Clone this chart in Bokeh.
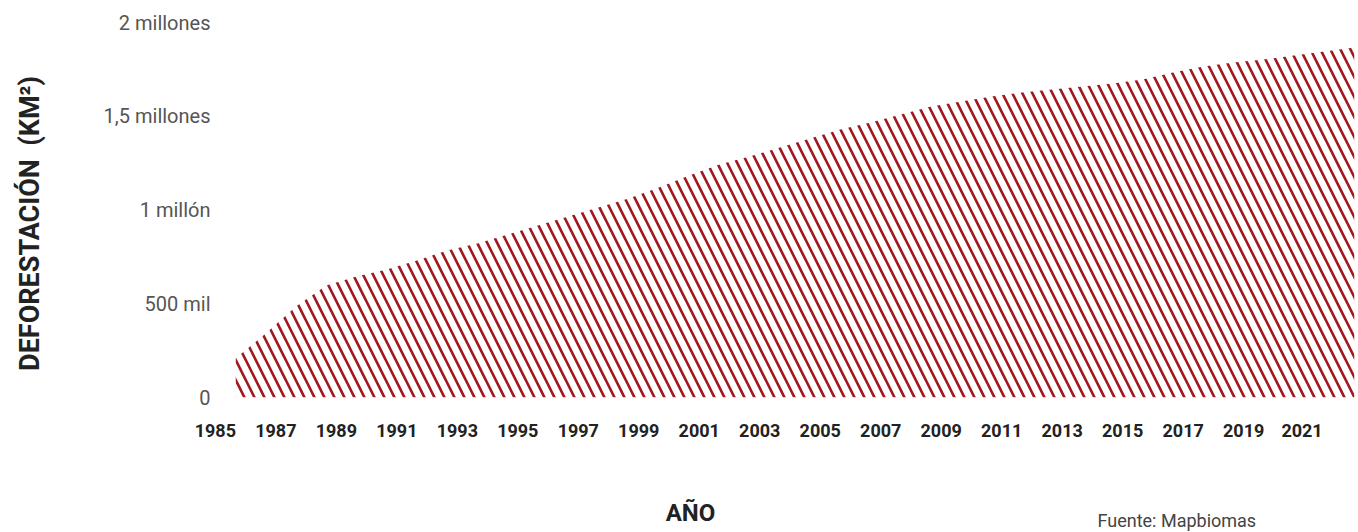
from bokeh.plotting import figure
from bokeh.models import FixedTicker, Range1d, Label
from bokeh.layouts import column
from bokeh.embed import file_html
from bokeh.resources import INLINE

years = list(range(1985, 2023))
deforestation = [208000, 341000, 485000, 597000, 645000, 683000, 731000, 784000,
                 821000, 869000, 917000, 965000, 1013000, 1061000, 1120000, 1184000,
                 1243000, 1285000, 1333000, 1381000, 1429000, 1467000, 1509000,
                 1552000, 1579000, 1605000, 1627000, 1643000, 1659000, 1675000,
                 1696000, 1733000, 1765000, 1787000, 1803000, 1824000, 1845000, 1867000]

x_ticks = list(range(1985, 2022, 2))
x_labels = [str(y) for y in x_ticks]
y_ticks = [0, 500000, 1000000, 1500000, 2000000]
y_labels = ["0", "500 mil", "1 millón", "1,5 millones", "2 millones"]

y_title = "DEFORESTACIÓN\u00a0\u00a0(KM²)"
x_title = "AÑO"
source_text = "Fuente: Mapbiomas"

X0, X1 = 1985, 2022
HATCH = "#a3181f"

p = figure(width=1358, height=455, output_backend="svg", toolbar_location=None,
           x_range=Range1d(X0, X1), y_range=Range1d(0, 2000000),
           min_border_left=235, min_border_right=4, min_border_top=22,
           min_border_bottom=58)
p.outline_line_color = None
p.xgrid.visible = False
p.ygrid.visible = False

p.varea(x=years, y1=[0] * len(years), y2=deforestation,
        fill_alpha=0, hatch_pattern="\\", hatch_color=HATCH,
        hatch_weight=2.6, hatch_scale=20)

# axes (labels sit to the left of their tick, as in the original)
def pad_label(label, last):
    return label + "\u00a0" * (8 if last else 9)

p.xaxis.ticker = FixedTicker(ticks=x_ticks)
p.xaxis.major_label_overrides = {
    t: pad_label(l, t == x_ticks[-1]) for t, l in zip(x_ticks, x_labels)}
p.xaxis.axis_line_color = None
p.xaxis.major_tick_line_color = None
p.xaxis.major_tick_out = 0
p.xaxis.major_tick_in = 0
p.xaxis.minor_tick_line_color = None
p.xaxis.major_label_standoff = 22
p.xaxis.major_label_text_font = "Roboto"
p.xaxis.major_label_text_font_style = "bold"
p.xaxis.major_label_text_font_size = "18px"
p.xaxis.major_label_text_color = "#222222"

p.yaxis.ticker = FixedTicker(ticks=y_ticks)
p.yaxis.major_label_overrides = {t: l for t, l in zip(y_ticks, y_labels)}
p.yaxis.axis_line_color = None
p.yaxis.major_tick_line_color = None
p.yaxis.major_tick_out = 0
p.yaxis.major_tick_in = 0
p.yaxis.minor_tick_line_color = None
p.yaxis.major_label_standoff = 25
p.yaxis.major_label_text_font = "Roboto"
p.yaxis.major_label_text_font_size = "20px"
p.yaxis.major_label_text_color = "#555555"
p.yaxis.axis_label = y_title + "\u00a0" * 4
p.yaxis.axis_label_standoff = 55
p.yaxis.axis_label_text_font = "Roboto"
p.yaxis.axis_label_text_font_style = "bold"
p.yaxis.axis_label_text_font_size = "27px"
p.yaxis.axis_label_text_color = "#222222"

# bottom strip with axis title and source (same horizontal scale as main chart)
p2 = figure(width=1358, height=77, output_backend="svg", toolbar_location=None,
            x_range=Range1d(X0, X1), y_range=Range1d(0, 77),
            min_border_left=235, min_border_right=4, min_border_top=0,
            min_border_bottom=0, x_axis_type=None, y_axis_type=None)
p2.outline_line_color = None
p2.xgrid.visible = False
p2.ygrid.visible = False
px_per_year = (1354 - 235) / (X1 - X0)
p2.add_layout(Label(x=X0 + (690 - 235) / px_per_year, y=20, text=x_title,
                    text_align="center", text_baseline="middle",
                    text_font="Roboto", text_font_style="bold",
                    text_font_size="24px", text_color="#222222"))
p2.add_layout(Label(x=X0 + (1097 - 235) / px_per_year, y=12, text=source_text,
                    text_align="left", text_baseline="middle",
                    text_font="Roboto", text_font_size="18px",
                    text_color="#444444"))

layout = column(p, p2, spacing=0)
open("out.html", "w").write(file_html(layout, INLINE))
